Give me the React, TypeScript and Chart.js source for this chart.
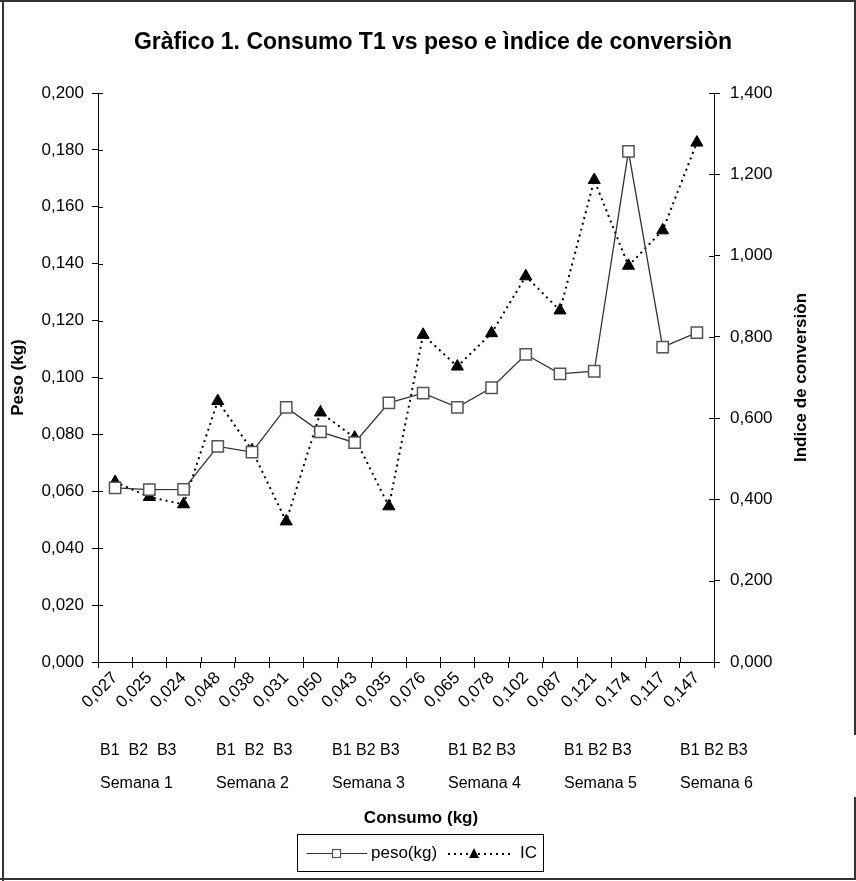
import React, { useEffect, useRef } from "react";
import { Chart, registerables } from "chart.js";

Chart.register(...registerables);

const consumo = ["0,027", "0,025", "0,024", "0,048", "0,038", "0,031", "0,050", "0,043", "0,035", "0,076", "0,065", "0,078", "0,102", "0,087", "0,121", "0,174", "0,117", "0,147"];
const peso = [0.0612, 0.0606, 0.0607, 0.0758, 0.0738, 0.0895, 0.0809, 0.0771, 0.0911, 0.0945, 0.0895, 0.0964, 0.1081, 0.1013, 0.1022, 0.1795, 0.1107, 0.1158];
const ic = [0.443, 0.406, 0.388, 0.642, 0.521, 0.346, 0.614, 0.552, 0.383, 0.805, 0.727, 0.809, 0.949, 0.865, 1.186, 0.975, 1.062, 1.278];
const bloques = ["B1  B2  B3", "B1  B2  B3", "B1 B2 B3", "B1 B2 B3", "B1 B2 B3", "B1 B2 B3"];
const semanas = ["Semana 1", "Semana 2", "Semana 3", "Semana 4", "Semana 5", "Semana 6"];
const titulo = "Gràfico 1. Consumo T1 vs peso e ìndice de conversiòn";
const tituloY = "Peso (kg)";
const tituloY1 = "Indice de conversiòn";
const tituloX = "Consumo (kg)";
const serieNombres = ["peso(kg)", "IC"];

const FONT = "'Liberation Sans', Arial, sans-serif";
const fmt = (v: number) => v.toFixed(3).replace(".", ",");

const decor = {
  id: "decor",
  afterDraw(chart: any) {
    const ctx = chart.ctx as CanvasRenderingContext2D;
    const { left, right, top, bottom } = chart.chartArea;
    ctx.save();
    // frame
    ctx.fillStyle = "#333";
    ctx.fillRect(0, 0, 856, 2);
    ctx.fillRect(2, 0, 2, 881);
    ctx.fillRect(0, 878, 856, 2);
    ctx.fillRect(854, 0, 2, 735);
    ctx.fillRect(854, 797, 2, 83);

    // inward tick marks
    ctx.strokeStyle = "#000";
    ctx.lineWidth = 1;
    const ys = chart.scales.y;
    ys.ticks.forEach((t: any) => {
      const yy = Math.round(ys.getPixelForValue(t.value)) + 0.5;
      ctx.beginPath();
      ctx.moveTo(left, yy);
      ctx.lineTo(left + 5, yy);
      ctx.stroke();
    });
    const y1 = chart.scales.y1;
    y1.ticks.forEach((t: any) => {
      const yy = Math.round(y1.getPixelForValue(t.value)) + 0.5;
      ctx.beginPath();
      ctx.moveTo(right - 5, yy);
      ctx.lineTo(right, yy);
      ctx.stroke();
    });
    const xs = chart.scales.x;
    const n = consumo.length;
    for (let i = 0; i <= n; i++) {
      const xx = Math.round(xs.left + (i * (xs.right - xs.left)) / n) + 0.5;
      ctx.beginPath();
      ctx.moveTo(xx, bottom - 5);
      ctx.lineTo(xx, bottom);
      ctx.stroke();
    }

    ctx.fillStyle = "#000";
    // title
    ctx.font = `bold 23px ${FONT}`;
    ctx.textAlign = "center";
    ctx.textBaseline = "middle";
    ctx.fillText(titulo, 433, 43);

    // axis titles
    ctx.font = `bold 17px ${FONT}`;
    ctx.save();
    ctx.translate(18, (top + bottom) / 2);
    ctx.rotate(-Math.PI / 2);
    ctx.fillText(tituloY, 0, 0);
    ctx.restore();
    ctx.save();
    ctx.translate(801, (top + bottom) / 2);
    ctx.rotate(-Math.PI / 2);
    ctx.fillText(tituloY1, 0, 0);
    ctx.restore();
    ctx.fillText(tituloX, 421, 818);

    // group labels
    ctx.font = `16px ${FONT}`;
    ctx.textAlign = "left";
    const step = 116;
    bloques.forEach((b, i) => ctx.fillText(b, 100 + i * step, 751));
    semanas.forEach((s, i) => ctx.fillText(s, 100 + i * step, 784));

    // legend
    ctx.strokeStyle = "#000";
    ctx.lineWidth = 1;
    ctx.strokeRect(297.5, 834.5, 246, 37);
    const ly = 853;
    ctx.strokeStyle = "#333";
    ctx.lineWidth = 1.2;
    ctx.beginPath();
    ctx.moveTo(307, ly + 0.5);
    ctx.lineTo(367, ly + 0.5);
    ctx.stroke();
    ctx.fillStyle = "#fff";
    ctx.fillRect(332, ly - 4, 9, 9);
    ctx.strokeStyle = "#555";
    ctx.strokeRect(332.5, ly - 3.5, 8, 8);
    ctx.fillStyle = "#000";
    ctx.font = `17px ${FONT}`;
    ctx.fillText(serieNombres[0], 371, ly);
    ctx.strokeStyle = "#000";
    ctx.lineWidth = 2;
    ctx.setLineDash([2, 4]);
    ctx.beginPath();
    ctx.moveTo(448, ly + 1);
    ctx.lineTo(512, ly + 1);
    ctx.stroke();
    ctx.setLineDash([]);
    ctx.beginPath();
    ctx.moveTo(474, ly - 5);
    ctx.lineTo(479, ly + 5);
    ctx.lineTo(469, ly + 5);
    ctx.closePath();
    ctx.fill();
    ctx.fillText(serieNombres[1], 520, ly);
    ctx.restore();
  },
};

export default function App() {
  const ref = useRef<HTMLCanvasElement>(null);
  useEffect(() => {
    document.body.style.margin = "0";
    const chart = new Chart(ref.current as HTMLCanvasElement, {
      type: "line",
      data: {
        labels: consumo,
        datasets: [
          {
            label: serieNombres[0],
            data: peso,
            yAxisID: "y",
            borderColor: "#333",
            borderWidth: 1.3,
            pointStyle: "rect",
            pointRadius: 8,
            pointBackgroundColor: "#fff",
            pointBorderColor: "#555",
            pointBorderWidth: 1.5,
            tension: 0,
          },
          {
            label: serieNombres[1],
            data: ic,
            yAxisID: "y1",
            borderColor: "#000",
            borderWidth: 2,
            borderDash: [2, 4],
            pointStyle: "triangle",
            pointRadius: 7,
            pointBackgroundColor: "#000",
            pointBorderColor: "#000",
            pointBorderWidth: 1,
            tension: 0,
          },
        ],
      },
      options: {
        animation: false,
        responsive: true,
        maintainAspectRatio: false,
        layout: { padding: { top: 93, left: 0, right: 0, bottom: 0 } },
        plugins: {
          legend: { display: false },
          title: { display: false },
          tooltip: { enabled: false },
        },
        scales: {
          x: {
            type: "category",
            offset: true,
            afterFit: (s: any) => {
              s.height = 219;
            },
            grid: { drawOnChartArea: false, offset: true, tickLength: 6, color: "#000" },
            border: { color: "#000", width: 1 },
            ticks: {
              color: "#000",
              font: { family: FONT, size: 17 },
              minRotation: 45,
              maxRotation: 45,
              autoSkip: false,
              padding: 0,
            },
          },
          y: {
            position: "left",
            min: 0,
            max: 0.2,
            afterFit: (s: any) => {
              s.width = 98;
            },
            grid: { drawOnChartArea: false, tickLength: 6, color: "#000" },
            border: { color: "#000", width: 1 },
            ticks: {
              stepSize: 0.02,
              color: "#000",
              font: { family: FONT, size: 17 },
              padding: 8,
              callback: (v: any) => fmt(Number(v)),
            },
          },
          y1: {
            position: "right",
            min: 0,
            max: 1.4,
            afterFit: (s: any) => {
              s.width = 142;
            },
            grid: { drawOnChartArea: false, tickLength: 6, color: "#000" },
            border: { color: "#000", width: 1 },
            ticks: {
              stepSize: 0.2,
              color: "#000",
              font: { family: FONT, size: 17 },
              padding: 10,
              callback: (v: any) => fmt(Number(v)),
            },
          },
        },
      },
      plugins: [decor],
    });
    return () => chart.destroy();
  }, []);
  return (
    <div style={{ position: "relative", width: 856, height: 881 }}>
      <canvas ref={ref} />
    </div>
  );
}
